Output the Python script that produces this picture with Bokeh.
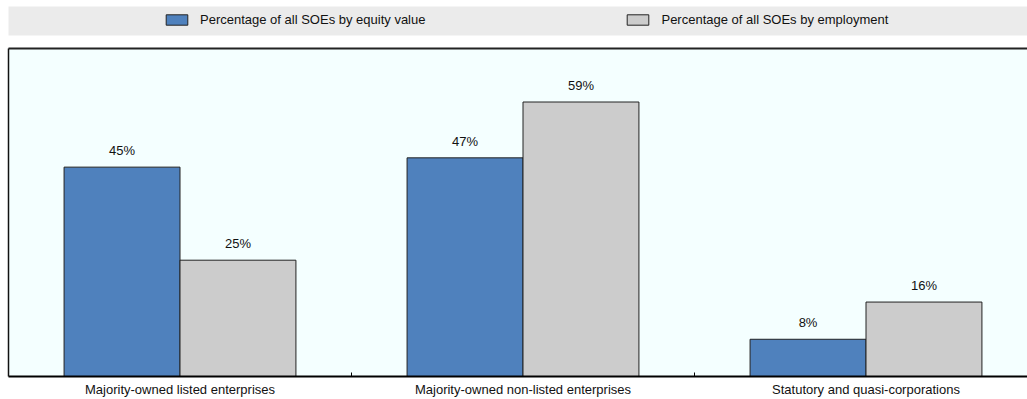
import numpy as np
from bokeh.plotting import figure
from bokeh.models import (Range1d, FixedTicker, LinearAxis, Legend, LegendItem,
                          ColumnDataSource, LabelSet)
from bokeh.layouts import column
from bokeh.core.properties import value
from bokeh.embed import file_html
from bokeh.resources import INLINE

categories = ["Majority-owned listed enterprises",
              "Majority-owned non-listed enterprises",
              "Statutory and quasi-corporations"]
equity_value = [45, 47, 8]
employment = [25, 59, 16]
series_names = ["Percentage of all SOEs by equity value",
                "Percentage of all SOEs by employment"]
colors = ["#4f81bd", "#cccccc"]

FONT = "Liberation Sans"
FS = "13px"

centers = [i + 0.5 for i in range(len(categories))]
bw = 0.338
src_a = ColumnDataSource(dict(x=[c - bw / 2 for c in centers], top=equity_value,
                              lab=[f"{v}%" for v in equity_value]))
src_b = ColumnDataSource(dict(x=[c + bw / 2 for c in centers], top=employment,
                              lab=[f"{v}%" for v in employment]))

# ---- legend band ----
leg = figure(width=1027, height=40, output_backend="svg", toolbar_location=None,
             x_range=Range1d(0, 1), y_range=Range1d(0, 1),
             min_border_left=8, min_border_right=0, min_border_top=6, min_border_bottom=5)
leg.axis.visible = False
leg.grid.visible = False
leg.outline_line_color = None
leg.background_fill_color = "#ebebeb"
leg.border_fill_color = "white"
dummy = ColumnDataSource(dict(x=np.array([np.nan]), top=np.array([np.nan])))
ra = leg.vbar(x="x", top="top", width=0.1, source=dummy, fill_color=colors[0], line_color="#222222")
rb = leg.vbar(x="x", top="top", width=0.1, source=dummy, fill_color=colors[1], line_color="#222222")
legend = Legend(items=[LegendItem(label=series_names[0], renderers=[ra]),
                       LegendItem(label=series_names[1], renderers=[rb])],
                orientation="horizontal", location=(155, 8),
                padding=0, margin=0, spacing=199, label_standoff=10,
                glyph_width=27, glyph_height=13, label_height=13,
                background_fill_alpha=0, border_line_alpha=0,
                label_text_font=FONT, label_text_font_size=FS, label_text_color="#111111")
leg.add_layout(legend)

# ---- main chart ----
p = figure(width=1027, height=359, output_backend="svg", toolbar_location=None,
           x_range=Range1d(0, 1019 / 343), y_range=Range1d(0, 70.5),
           min_border_left=8, min_border_right=0, min_border_top=8, min_border_bottom=22)
p.background_fill_color = "#f4ffff"
p.border_fill_color = "white"
p.outline_line_color = None
p.grid.visible = False

p.vbar(x="x", top="top", width=bw, source=src_a, fill_color=colors[0], line_color="#222222", line_width=1)
p.vbar(x="x", top="top", width=bw, source=src_b, fill_color=colors[1], line_color="#222222", line_width=1)

for s in (src_a, src_b):
    p.add_layout(LabelSet(x="x", y="top", text="lab", source=s, y_offset=12,
                          text_align="center", text_baseline="alphabetic",
                          text_font=value(FONT), text_font_size=value(FS),
                          text_color="#111111"))

xa = p.xaxis[0]
xa.ticker = FixedTicker(ticks=centers, minor_ticks=[1, 2])
xa.major_label_overrides = {c: cat for c, cat in zip(centers, categories)}
xa.major_tick_in = 0
xa.major_tick_out = 0
xa.minor_tick_in = 4
xa.minor_tick_out = 0
xa.minor_tick_line_color = "black"
xa.axis_line_width = 2
xa.axis_line_color = "black"
xa.major_label_standoff = 5
xa.major_label_text_font = FONT
xa.major_label_text_font_size = FS
xa.major_label_text_color = "#111111"

ya = p.yaxis[0]
ya.ticker = FixedTicker(ticks=[])
ya.major_tick_in = 0
ya.major_tick_out = 0
ya.minor_tick_in = 0
ya.minor_tick_out = 0
ya.axis_line_width = 1.5
ya.axis_line_color = "#111111"

top_axis = LinearAxis(ticker=FixedTicker(ticks=[]), axis_line_width=2, axis_line_color="#222222",
                      major_tick_in=0, major_tick_out=0, minor_tick_in=0, minor_tick_out=0)
p.add_layout(top_axis, "above")

layout = column(leg, p, spacing=0)
open("out.html", "w").write(file_html(layout, INLINE))
